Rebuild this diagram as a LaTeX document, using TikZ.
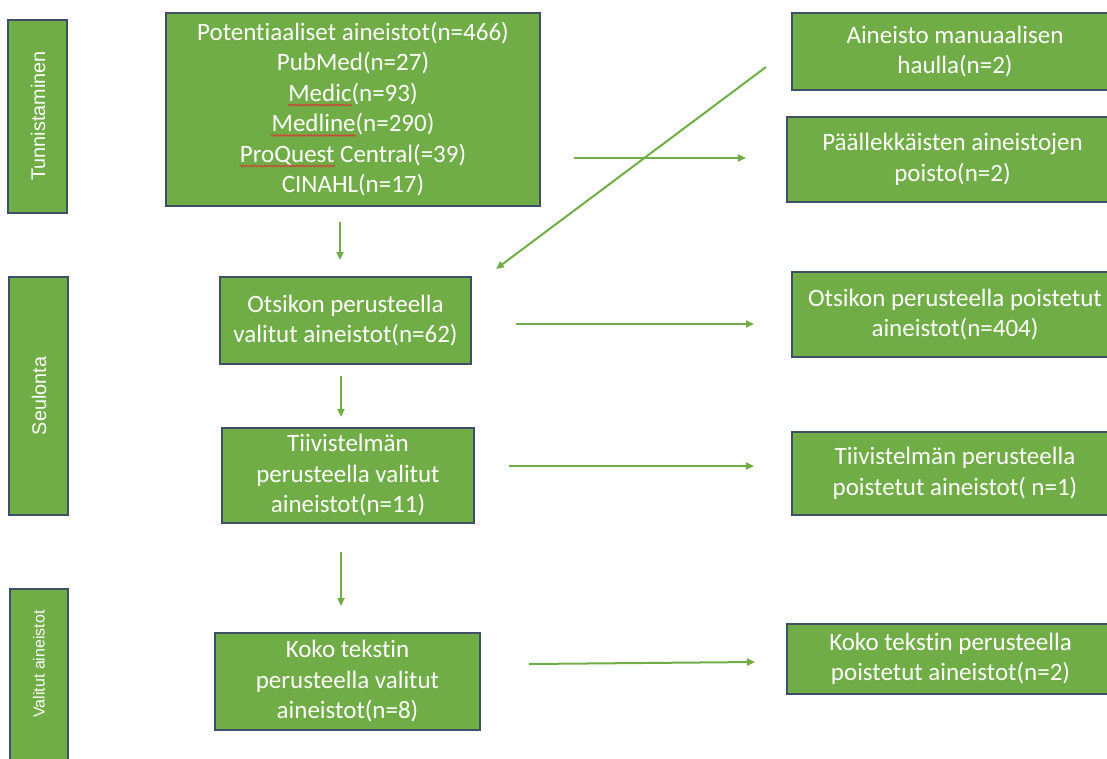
\documentclass[tikz,border=0pt]{standalone}
\usepackage{fontspec}
\setmainfont{Carlito}[Ligatures=NoCommon]
\newfontfamily\arialf{Liberation Sans}
\usetikzlibrary{arrows.meta,decorations.pathmorphing}
\definecolor{boxgreen}{HTML}{70AD47}
\definecolor{boxedge}{HTML}{3E4F68}
\definecolor{spellred}{HTML}{E03030}
\tikzset{
  box/.style={draw=boxedge, line width=1.3pt, fill=boxgreen, text=white, align=center,
    inner sep=0pt, font=\fontsize{25}{30.5}\selectfont},
  stagebox/.style={draw=boxedge, line width=1.3pt, fill=boxgreen, inner sep=0pt},
  stagetext/.style={text=white, rotate=90, inner sep=0pt},
  linetext/.style={text=white, inner sep=0pt, anchor=base, font=\fontsize{25}{30.5}\selectfont},
  wordmark/.style={inner sep=0pt, anchor=base west, font=\fontsize{25}{30.5}\selectfont},
  spell/.style={draw=spellred, line width=0.7pt, decorate,
    decoration={snake, segment length=3pt, amplitude=0.9pt}},
  flow/.style={draw=boxgreen, line width=2pt, -{Triangle[length=8pt,width=7pt]}},
}
\begin{document}
\begin{tikzpicture}[x=1pt,y=-1pt]
\useasboundingbox (0,0) rectangle (1107,758);
% stage boxes
\node[stagebox, minimum width=59pt, minimum height=193pt] (tunn) at (37.5,116.5) {};
\node[stagetext, font=\arialf\fontsize{19.8}{23}\selectfont] (tunnt) at (38,116) {Tunnistaminen};
\node[stagebox, minimum width=59pt, minimum height=238pt] (seul) at (38.5,396) {};
\node[stagetext, font=\arialf\fontsize{19.8}{23}\selectfont] (seult) at (39,396) {Seulonta};
\node[stagebox, minimum width=58pt, minimum height=200pt] (valit) at (39,689) {};
\node[stagetext, font=\arialf\fontsize{16}{19}\selectfont] (valitt) at (39,664) {Valitut aineistot};
% main column
\node[box, minimum width=374pt, minimum height=193pt] (pot) at (353,109.5) {};
\node[linetext] (p1) at (353,40) {Potentiaaliset aineistot(n=466)};
\node[linetext] (p2) at (353,70.5) {PubMed(n=27)};
\node[linetext] (p3) at (353,101) {Medic(n=93)};
\node[linetext] (p4) at (353,131.5) {Medline(n=290)};
\node[linetext] (p5) at (353,162) {ProQuest Central(=39)};
\node[linetext] (p6) at (353,192.5) {CINAHL(n=17)};
\node[wordmark] (w3) at (p3.base west) {\phantom{Medic}};
\node[wordmark] (w4) at (p4.base west) {\phantom{Medline}};
\node[wordmark] (w5) at (p5.base west) {\phantom{ProQuest}};
\draw[spell] ([yshift=-4pt]w3.base west) -- ([yshift=-4pt]w3.base east);
\draw[spell] ([yshift=-4pt]w4.base west) -- ([yshift=-4pt]w4.base east);
\draw[spell] ([yshift=-4pt]w5.base west) -- ([yshift=-4pt]w5.base east);
\node[box, minimum width=251pt, minimum height=87pt] (ots) at (345.5,320.5)
  {Otsikon perusteella\\valitut aineistot(n=62)};
\node[box, minimum width=252pt, minimum height=95pt] (tiiv) at (348,475.5)
  {Tiivistelmän\\perusteella valitut\\aineistot(n=11)};
\node[box, minimum width=265pt, minimum height=97pt] (koko) at (347.5,681.5)
  {Koko tekstin\\perusteella valitut\\aineistot(n=8)};
% right column
\node[box, minimum width=326pt, minimum height=77pt] (manu) at (955,51.5)
  {Aineisto manuaalisen\\haulla(n=2)};
\node[box, minimum width=331pt, minimum height=85pt] (paal) at (952.5,159.5)
  {Päällekkäisten aineistojen\\poisto(n=2)};
\node[box, minimum width=326pt, minimum height=85pt] (otsp) at (955,314.5)
  {Otsikon perusteella poistetut\\aineistot(n=404)};
\node[box, minimum width=326pt, minimum height=83pt] (tiivp) at (955,473.5)
  {Tiivistelmän perusteella\\poistetut aineistot( n=1)};
\node[box, minimum width=327pt, minimum height=70pt] (kokop) at (950.5,659)
  {Koko tekstin perusteella\\poistetut aineistot(n=2)};
% arrow end points
\coordinate (a1s) at (340,222); \coordinate (a1e) at (340,260);
\coordinate (a2s) at (766,67);  \coordinate (a2e) at (496,269);
\coordinate (a3s) at (574,158); \coordinate (a3e) at (746,158);
\coordinate (a4s) at (341,376); \coordinate (a4e) at (341,417);
\coordinate (a5s) at (516,324); \coordinate (a5e) at (754,324);
\coordinate (a6s) at (509,466); \coordinate (a6e) at (754,466);
\coordinate (a7s) at (341,552); \coordinate (a7e) at (341,606);
\coordinate (a8s) at (529,664); \coordinate (a8e) at (755,662);
\draw[flow] (a1s) -- (a1e);
\draw[flow] (a2s) -- (a2e);
\draw[flow] (a3s) -- (a3e);
\draw[flow] (a4s) -- (a4e);
\draw[flow] (a5s) -- (a5e);
\draw[flow] (a6s) -- (a6e);
\draw[flow] (a7s) -- (a7e);
\draw[flow] (a8s) -- (a8e);
\end{tikzpicture}
\end{document}
